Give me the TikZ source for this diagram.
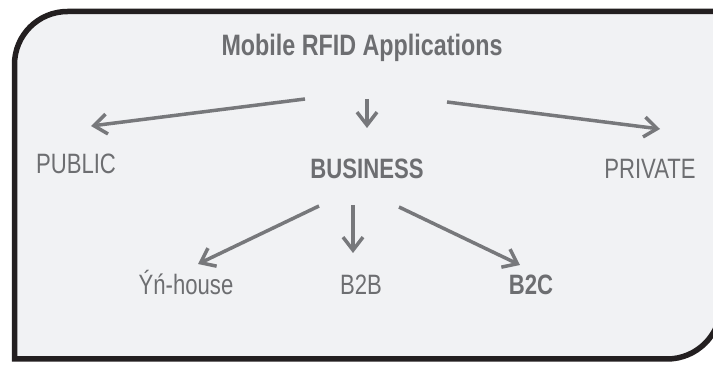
\documentclass[tikz,border=0pt]{standalone}
\usepackage{fontspec}
\setmainfont{Liberation Sans}[FakeStretch=0.79]
\usetikzlibrary{arrows.meta,calc}
\definecolor{boxfill}{HTML}{F1F2F4}
\definecolor{boxline}{HTML}{231F20}
\definecolor{txtgray}{HTML}{6D6E71}
\definecolor{arrgray}{HTML}{77787B}
\tikzset{
  lbl/.style={anchor=base, inner sep=0pt, text=txtgray, font=\fontsize{28}{30}\selectfont},
  lblbold/.style={lbl, font=\fontsize{28}{30}\selectfont\bfseries},
  arr/.style={draw=arrgray, line width=3.5pt, -{Straight Barb[length=13pt,width=20pt,line width=3.5pt]}},
}
\begin{document}
\begin{tikzpicture}[x=1pt,y=-1pt]
    \useasboundingbox (0,0) rectangle (713,366);
    \draw[boxline, fill=boxfill, line width=5.5pt] (14.5,359) -- (14.5,64.5) arc[start angle=180,end angle=270,radius=53] -- (721,11.5) -- (721,305) arc[start angle=0,end angle=90,radius=54] -- cycle;

    \node[lblbold, font=\fontsize{29.5}{32}\selectfont\bfseries] (apps) at (362,56) {Mobile RFID Applications};
    \node[lbl] (public) at (76,174) {PUBLIC};
    \node[lblbold] (business) at (367,179) {BUSINESS};
    \node[lbl] (private) at (650,179) {PRIVATE};
    \node[lbl] (inhouse) at (186,295) {Ýń-house};
    \node[lbl] (btob) at (361,295) {B2B};
    \node[lblbold] (btoc) at (531,295) {B2C};

    \draw[arr] ($(apps.base)+(-57,43)$) -- ($(public.base)+(15,-48)$);
    \draw[arr] ($(apps.base)+(5,43)$) -- ($(business.base)+(0,-51)$);
    \draw[arr] ($(apps.base)+(85,46)$) -- ($(private.base)+(10,-50)$);
    \draw[arr] ($(business.base)+(-48,27)$) -- ($(inhouse.base)+(12,-31)$);
    \draw[arr] ($(business.base)+(-14,26)$) -- ($(btob.base)+(-8,-42)$);
    \draw[arr] ($(business.base)+(32,28)$) -- ($(btoc.base)+(-11,-30)$);
\end{tikzpicture}
\end{document}
